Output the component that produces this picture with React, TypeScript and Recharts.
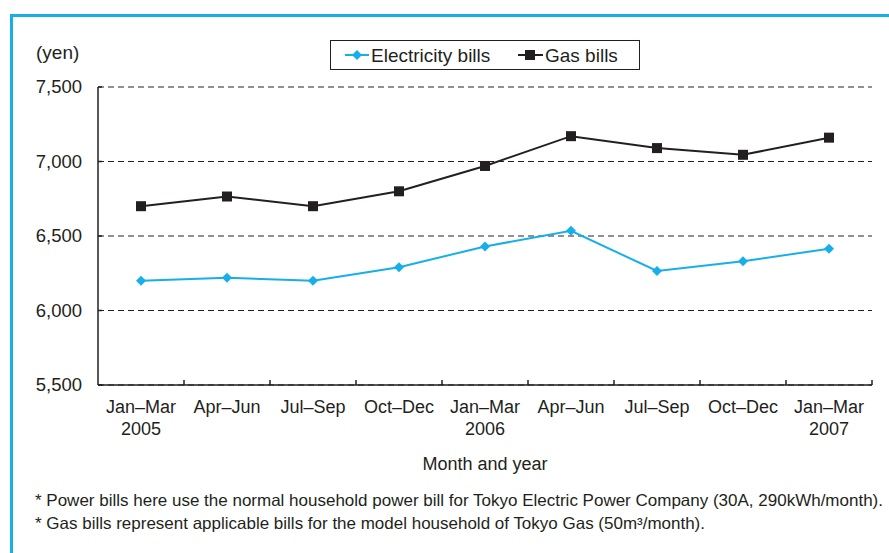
import React from 'react';
import { LineChart, Line, XAxis, YAxis, CartesianGrid, Legend } from 'recharts';

const periods = ['Jan–Mar', 'Apr–Jun', 'Jul–Sep', 'Oct–Dec', 'Jan–Mar', 'Apr–Jun', 'Jul–Sep', 'Oct–Dec', 'Jan–Mar'];
const years = ['2005', '', '', '', '2006', '', '', '', '2007'];
const electricityBills = [6200, 6220, 6200, 6290, 6430, 6535, 6265, 6330, 6415];
const gasBills = [6700, 6765, 6700, 6800, 6970, 7170, 7090, 7045, 7160];
const yTicks = [5500, 6000, 6500, 7000, 7500];

const BLUE = '#16afe9';
const INK = '#231f20';
const FONT = '"Liberation Sans", Arial, Helvetica, sans-serif';

const data = periods.map((p, i) => ({
  key: String(i),
  electricity: electricityBills[i],
  gas: gasBills[i],
}));

const fmt = (v: number) => v.toLocaleString('en-US');

const Square = (props: any) => {
  const { cx, cy } = props;
  if (cx == null || cy == null) return null;
  return <rect x={cx - 5} y={cy - 5} width={10} height={10} fill={INK} />;
};

const Diamond = (props: any) => {
  const { cx, cy } = props;
  if (cx == null || cy == null) return null;
  const r = 5;
  return <polygon points={`${cx},${cy - r} ${cx + r},${cy} ${cx},${cy + r} ${cx - r},${cy}`} fill={BLUE} />;
};

// category label in two lines, plus an inward tick at the right edge of each band
const QuarterTick = (props: any) => {
  const { x, y, index, payload } = props;
  const half = payload && payload.offset ? payload.offset : 0;
  return (
    <g>
      <line x1={x + half} x2={x + half} y1={y} y2={y - 5} stroke={INK} strokeWidth={1.5} />
      <text x={x} y={y + 28} textAnchor="middle" fontSize={18} fill={INK} fontFamily={FONT}>
        {periods[index]}
      </text>
      {years[index] && (
        <text x={x} y={y + 50} textAnchor="middle" fontSize={18} fill={INK} fontFamily={FONT}>
          {years[index]}
        </text>
      )}
    </g>
  );
};

const YenTick = (props: any) => {
  const { x, y, payload } = props;
  return (
    <g>
      <line x1={x} x2={x + 4} y1={y} y2={y} stroke={INK} strokeWidth={1.5} />
      <text x={x - 16} y={y + 6} textAnchor="end" fontSize={18.5} fill={INK} fontFamily={FONT}>
        {fmt(payload.value)}
      </text>
    </g>
  );
};

const LegendBox = () => (
  <div style={{ width: 308, height: 28, border: `1.5px solid ${INK}`, background: '#fff' }}>
    <svg width={308} height={28} style={{ display: 'block' }}>
      <line x1={14} x2={38} y1={14} y2={14} stroke={BLUE} strokeWidth={2} />
      <Diamond cx={26} cy={14} />
      <text x={40} y={20.5} fontSize={19} fill={INK} fontFamily={FONT}>Electricity bills</text>
      <line x1={187} x2={212} y1={14} y2={14} stroke={INK} strokeWidth={2} />
      <Square cx={199} cy={14} />
      <text x={214} y={20.5} fontSize={19} fill={INK} fontFamily={FONT}>Gas bills</text>
    </svg>
  </div>
);

export default function App() {
  return (
    <div style={{ position: 'absolute', left: 0, top: 0, width: 889, height: 553, overflow: 'hidden', background: '#fff', fontFamily: FONT }}>
      <div style={{ position: 'absolute', left: 10, top: 14, width: 900, height: 600, borderTop: `3px solid ${BLUE}`, borderLeft: `3px solid ${BLUE}` }} />
      <div style={{ position: 'absolute', left: 0, top: 0 }}>
        <LineChart width={889} height={553} data={data} margin={{ top: 87, right: 17, bottom: 108, left: 38 }}>
          <CartesianGrid horizontal vertical={false} stroke="#222" strokeDasharray="6 4" />
          <XAxis
            dataKey="key"
            scale="band"
            height={60}
            axisLine={{ stroke: INK, strokeWidth: 1.5 }}
            tickLine={false}
            tickSize={0}
            tickMargin={0}
            interval={0}
            tick={<QuarterTick />}
          />
          <YAxis
            width={60}
            domain={[5500, 7500]}
            ticks={yTicks}
            axisLine={{ stroke: INK, strokeWidth: 1.5 }}
            tickLine={false}
            tickSize={0}
            tickMargin={0}
            tick={<YenTick />}
          />
          <Legend
            layout="horizontal"
            verticalAlign="middle"
            align="center"
            content={<LegendBox />}
            wrapperStyle={{ position: 'absolute', left: 330, top: 40, width: 312, height: 32 }}
          />
          <Line
            dataKey="electricity"
            name="Electricity bills"
            stroke={BLUE}
            strokeWidth={2}
            dot={<Diamond />}
            activeDot={false}
            isAnimationActive={false}
          />
          <Line
            dataKey="gas"
            name="Gas bills"
            stroke={INK}
            strokeWidth={2}
            dot={<Square />}
            activeDot={false}
            isAnimationActive={false}
          />
        </LineChart>
      </div>
      <svg width={889} height={553} style={{ position: 'absolute', left: 0, top: 0, pointerEvents: 'none' }}>
        <text x={36} y={59} fontSize={19} fill={INK} fontFamily={FONT}>(yen)</text>
        <text x={485} y={470} textAnchor="middle" fontSize={18} fill={INK} fontFamily={FONT}>Month and year</text>
        <text x={35} y={506} fontSize={16.5} fill={INK} fontFamily={FONT} textLength={848} lengthAdjust="spacingAndGlyphs">
          * Power bills here use the normal household power bill for Tokyo Electric Power Company (30A, 290kWh/month).
        </text>
        <text x={35} y={529} fontSize={16.5} fill={INK} fontFamily={FONT} textLength={670} lengthAdjust="spacingAndGlyphs">
          * Gas bills represent applicable bills for the model household of Tokyo Gas (50m³/month).
        </text>
      </svg>
    </div>
  );
}
